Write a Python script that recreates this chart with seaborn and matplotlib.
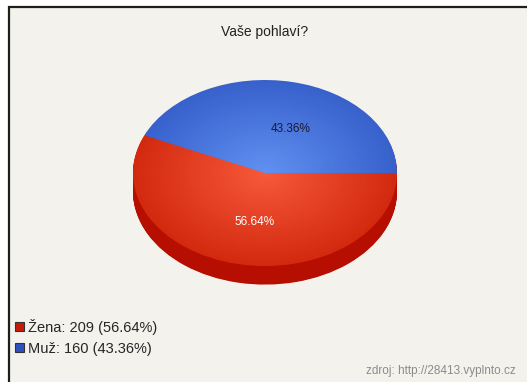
import matplotlib
matplotlib.use("Agg")
import matplotlib.pyplot as plt
import matplotlib.transforms as mtransforms
import numpy as np
import seaborn as sns
from matplotlib.colors import to_rgb
from matplotlib.patches import Patch, Rectangle

# data
labels = ["Žena", "Muž"]
counts = [209, 160]
title = "Vaše pohlaví?"
source = "zdroj: http://28413.vyplnto.cz"

edge_cols = ["#d32a0f", "#3861cc"]
center_cols = ["#f7583a", "#6090f0"]
side_col = "#b60e00"
pct_cols = ["white", "#1a1a33"]

sns.set_theme(style="white")
plt.rcParams["font.family"] = ["Liberation Sans", "DejaVu Sans"]

W, H = 527, 382
fig = plt.figure(figsize=(W / 100, H / 100), dpi=100, facecolor="white")

# panel with dark border (open at right/bottom, cropped)
fig.patches.append(Rectangle((9 / W, -0.1), 1.2, (H - 7) / H + 0.1,
                             transform=fig.transFigure, fc="#f3f2ec",
                             ec="#1e1e1e", lw=1.6, zorder=-5))

total = sum(counts)
start = 360 * counts[1] / total  # Zena ends at 0 deg, Muz spans 0..156
depth = 0.2

# pie axes: rx=132 px, ry=93 px, centre at (265, 173)
cx, cy, rx, ry = 265, 173, 132, 93
left = (cx - rx) / W
bottom = (H - (cy + ry + depth * ry)) / H
ax = fig.add_axes([left, bottom, 2 * rx / W, (2 + depth) * ry / H])
ax.patch.set_visible(False)

# side of the cylinder
for off in np.linspace(depth, 0.01, 30):
    ax.pie(counts, startangle=start, colors=[side_col, side_col],
           center=(0, -off), wedgeprops=dict(linewidth=0))

# top with a radial gradient
n = 30
for i, r in enumerate(np.linspace(1, 0.03, n)):
    t = i / (n - 1)
    cols = [tuple(np.array(to_rgb(e)) * (1 - t) + np.array(to_rgb(c)) * t)
            for e, c in zip(edge_cols, center_cols)]
    if i == 0:
        _, _, autotexts = ax.pie(counts, startangle=start, colors=cols, radius=r,
                                 autopct="%.2f%%", pctdistance=0.52,
                                 wedgeprops=dict(linewidth=0))
    else:
        ax.pie(counts, startangle=start, colors=cols, radius=r,
               wedgeprops=dict(linewidth=0))

# small nudges so the labels sit where the original renderer put them
nudges = [(4, -2), (11, -3)]
for txt, c, (dx, dy) in zip(autotexts, pct_cols, nudges):
    txt.set_color(c)
    txt.set_fontsize(8.5)
    txt.set_zorder(50)
    txt.set_transform(txt.get_transform() +
                      mtransforms.ScaledTranslation(dx / 100, dy / 100, fig.dpi_scale_trans))

ax.set_aspect("auto")
ax.set_xlim(-1, 1)
ax.set_ylim(-1 - depth, 1)
ax.axis("off")

fig.text(265 / W, 1 - 32 / H, title, ha="center", va="center",
         fontsize=10, color="#222222")

handles = [Patch(facecolor=c, edgecolor="#333333", lw=0.8)
           for c in ["#c81a08", "#3050c0"]]
leg_labels = [f"{l}: {v} ({v / total * 100:.2f}%)" for l, v in zip(labels, counts)]
fig.legend(handles, leg_labels, loc="upper left",
           bbox_to_anchor=(15 / W, 1 - 319 / H), frameon=False,
           fontsize=10.5, handlelength=0.6, handleheight=0.6,
           handletextpad=0.3, labelspacing=0.45, borderaxespad=0, borderpad=0)

fig.text(366 / W, 1 - 371 / H, source, ha="left", va="center",
         fontsize=8.5, color="#8c8c8c")

fig.savefig("out.png", dpi=100, facecolor=fig.get_facecolor())
